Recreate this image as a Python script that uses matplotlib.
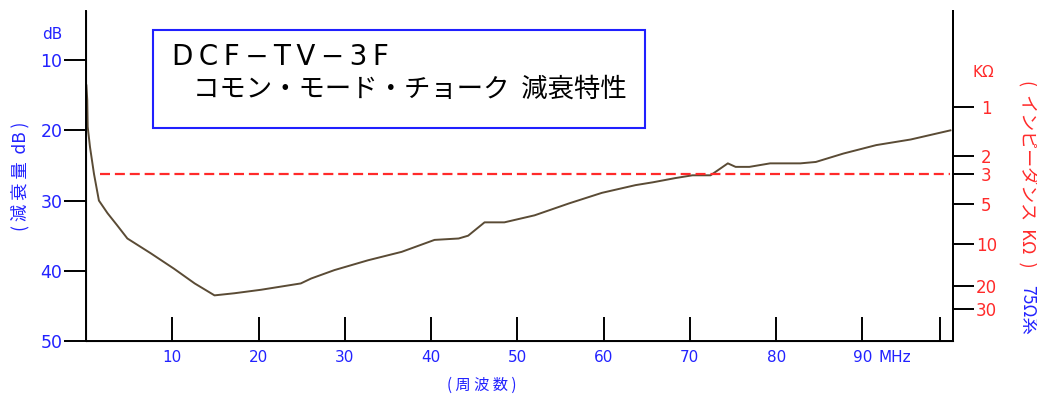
import matplotlib
matplotlib.use('Agg')
import matplotlib.pyplot as plt
from matplotlib.patches import Rectangle

plt.rcParams['font.family'] = ['DejaVu Sans', 'Noto Sans CJK JP']
JP = ['Noto Sans CJK JP', 'DejaVu Sans']

# 減衰特性 (MHz, dB) - odcitane z obrazku
freq = [0.05, 0.15, 0.2, 0.47, 0.93, 1.5, 2.5, 3.6, 4.8, 7.5, 10.2, 12.6, 14.9,
        17.2, 20.3, 24.9, 26.1, 28.8, 32.7, 36.6, 40.4, 43.2, 44.3, 46.2, 48.5,
        52.0, 56.0, 59.8, 63.7, 65.7, 68.3, 70.3, 72.4, 74.4, 75.3, 76.9, 79.3,
        82.8, 84.6, 87.8, 91.6, 95.6, 100.2]
atten = [13.6, 15.7, 19.5, 22.4, 26.2, 30.0, 31.8, 33.5, 35.4, 37.5, 39.7, 41.8, 43.5,
         43.2, 42.7, 41.8, 41.1, 39.9, 38.5, 37.3, 35.6, 35.4, 35.0, 33.1, 33.1,
         32.1, 30.4, 28.9, 27.8, 27.4, 26.8, 26.4, 26.4, 24.7, 25.2, 25.2, 24.7,
         24.7, 24.5, 23.3, 22.1, 21.3, 20.0]

ref_db = 26.2          # 3 KΩ
ref_range = [1.6, 100.2]

x_ticks = [10, 20, 30, 40, 50, 60, 70, 80, 90]
y_ticks = [10, 20, 30, 40, 50]
kohm_labels = ['1', '2', '3', '5', '10', '20', '30']
kohm_db = [16.7, 23.7, 26.2, 30.5, 36.2, 42.2, 45.4]

BLUE = '#2222ff'
RED = '#ff2a2a'
CURVE = '#5a4b35'

fig = plt.figure(figsize=(10.37, 4.01), dpi=100)
ax = fig.add_axes([0.0829, 0.1496, 0.9190 - 0.0829, 0.9726 - 0.1496])

ax.plot(freq, atten, color=CURVE, lw=1.4)
ax.plot(ref_range, [ref_db, ref_db], color=RED, lw=1.6, dashes=[4.5, 2.2])

ax.set_xlim(0, 100.5)
ax.set_ylim(50, 3)

ax.spines['top'].set_visible(False)
for s in ax.spines.values():
    s.set_linewidth(1.4)

ax.set_xticks(x_ticks + [99])
ax.set_xticklabels([str(t) for t in x_ticks] + [''])
ax.tick_params(axis='x', direction='in', length=17, width=1.4, pad=6.5,
               labelsize=11, labelcolor=BLUE)
ax.set_yticks(y_ticks)
ax.tick_params(axis='y', direction='out', length=16, width=1.4, pad=1,
               labelsize=12.5, labelcolor=BLUE)

ax.annotate('MHz', xy=(93.7, 50), xytext=(0, -6.5), textcoords='offset points',
            ha='center', va='top', color=BLUE, fontsize=11, annotation_clip=False)
ax.annotate('dB', xy=(0, 6.3), xytext=(-24.5, 0), textcoords='offset points',
            ha='center', va='center', color=BLUE, fontsize=11, annotation_clip=False)

fig.text(482 / 1037, 1 - 385 / 401, '( 周 波 数 )', color=BLUE, fontsize=11,
         ha='center', va='center', family=JP)
fig.text(20 / 1037, 1 - 176 / 401, '( 減 衰 量  dB )', color=BLUE, fontsize=12.5,
         ha='center', va='center', rotation=90, family=JP)

# pravá os - impedancia
axr = ax.twinx()
axr.set_ylim(ax.get_ylim())
axr.spines['top'].set_visible(False)
axr.spines['right'].set_linewidth(1.4)
axr.set_yticks(kohm_db)
axr.set_yticklabels(kohm_labels, ha='center')
axr.tick_params(axis='y', direction='out', length=15, width=1.4, pad=9,
                labelsize=12, labelcolor=RED)
axr.annotate('KΩ', xy=(100.5, 11.7), xytext=(22, 0), textcoords='offset points',
             ha='center', va='center', color=RED, fontsize=11, annotation_clip=False)

fig.text(1027 / 1037, 1 - 80 / 401, '(  インピーダンス  KΩ  )', color=RED,
         fontsize=13, ha='center', va='top', rotation=-90, family=JP)
fig.text(1027 / 1037, 1 - 285 / 401, '75Ω系', color=BLUE,
         fontsize=12.5, ha='center', va='top', rotation=-90, family=JP)

# titulok v ramceku
fig.add_artist(Rectangle((153 / 1037, 1 - 128 / 401), (645 - 153) / 1037, (128 - 30) / 401,
                         transform=fig.transFigure, fill=False, edgecolor='#2020ff', lw=1.5))
fig.text(172 / 1037, 1 - 57 / 401, 'D\u2009C\u2009F\u2009\u2212\u2009T\u2009V\u2009\u2212\u20093\u2009F',
         fontsize=20, ha='left', va='center')
fig.text(193 / 1037, 1 - 89 / 401, 'コモン・モード・チョーク  減衰特性', fontsize=19,
         ha='left', va='center', family=JP)

fig.savefig('out.png', dpi=100)
